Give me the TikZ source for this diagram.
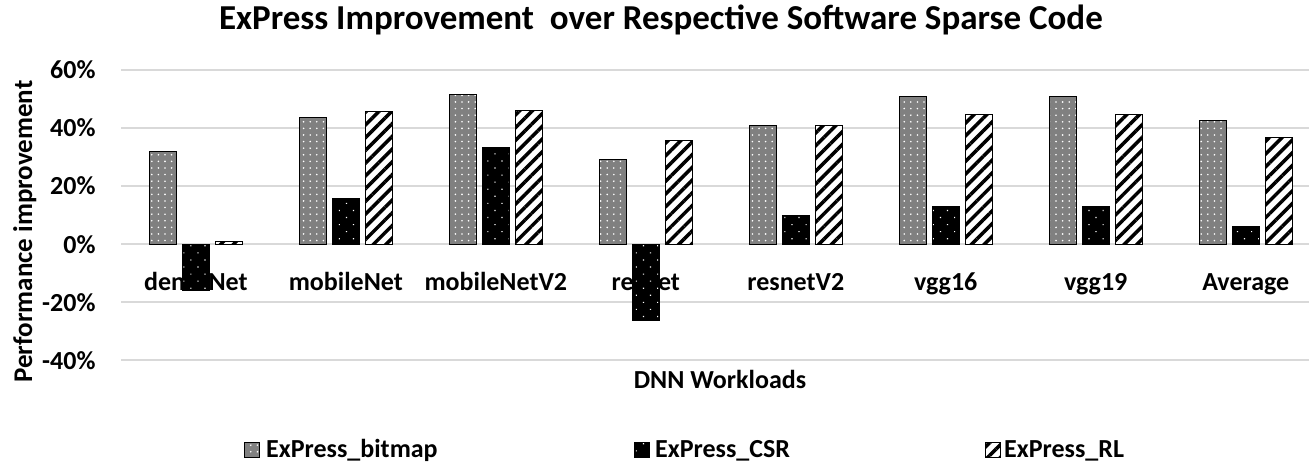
\documentclass[tikz,border=0pt]{standalone}
\usepackage{fontspec}
\setmainfont{Carlito}
\usetikzlibrary{patterns.meta}

\begin{document}
\begin{tikzpicture}[x=1pt,y=-1pt,
  lbl/.style={font=\fontsize{26}{30}\selectfont\bfseries, inner sep=0pt},
  gridline/.style={draw=black!15, line width=1.5pt},
  bar/.style={draw=black, line width=0.9pt},
  bitmapfill/.style={preaction={fill=black!50},
    pattern={Dots[radius=0.9pt,distance=6.6pt]}, pattern color=white},
  csrfill/.style={preaction={fill=black},
    pattern={Dots[radius=0.8pt,distance=10pt,angle=45]}, pattern color=white},
  rlfill/.style={preaction={fill=white},
    pattern={Lines[angle=45,distance=9pt,line width=3.5pt]}, pattern color=black},
  key/.style={draw=black, line width=0.6pt}]

\useasboundingbox (0,0) rectangle (1309,465);

% title
\node[font=\fontsize{35}{40}\selectfont\bfseries, inner sep=0pt, anchor=base]
  (title) at (661,30) {ExPress Improvement\ \ over Respective Software Sparse Code};

% horizontal gridlines and value axis labels
\foreach \v [count=\k] in {60,40,20,0,-20,-40} {
  \pgfmathsetmacro\gy{244-2.9*\v}
  \coordinate (gl\k) at (121,\gy);
  \coordinate (gr\k) at (1309,\gy);
  \draw[gridline] (gl\k) -- (gr\k);
  \node[lbl, anchor=base east] (tick\k) at (95.7,{\gy+9}) {\v\%};
}

% axis titles
\node[lbl, font=\fontsize{27}{30}\selectfont\bfseries, rotate=90, anchor=base]
  (ytitle) at (32,231.5) {Performance improvement};
\node[lbl, anchor=base] (xtitle) at (720,388) {DNN Workloads};

% category labels (bars are drawn on top of them)
\foreach \name [count=\k from 0] in {denseNet,mobileNet,mobileNetV2,resnet,resnetV2,vgg16,vgg19,Average} {
  \pgfmathsetmacro\cx{195.8+150*\k}
  \node[lbl, anchor=base] (cat\k) at (\cx,290) {\name};
}

% bars: bitmap / CSR / RL
\foreach \i/\a/\b/\c in {0/31.8/-16.1/0.9, 1/43.7/15.7/45.6, 2/51.6/33.2/45.9,
    3/29/-26.2/35.6, 4/41/9.7/40.8, 5/50.8/12.9/44.8, 6/50.8/12.9/44.8,
    7/42.5/6/36.8} {
  \pgfmathsetmacro\cx{195.8+150*\i}
  \draw[bar,bitmapfill] ({\cx-46.6},244) rectangle ({\cx-19.8},{244-2.9*\a});
  \draw[bar,csrfill] ({\cx-13.4},244) rectangle ({\cx+13.4},{244-2.9*\b});
  \draw[bar,rlfill] ({\cx+19.8},244) rectangle ({\cx+46.6},{244-2.9*\c});
}

% legend
\draw[key,bitmapfill] (244,442) rectangle (259,457);
\node[lbl, anchor=base west] (leg1) at (266,457) {ExPress\_bitmap};
\draw[key,csrfill] (634,442) rectangle (649,457);
\node[lbl, anchor=base west] (leg2) at (655,457) {ExPress\_CSR};
\draw[key,rlfill] (985,442) rectangle (1000,457);
\node[lbl, anchor=base west] (leg3) at (1004,457) {ExPress\_RL};

\end{tikzpicture}
\end{document}
